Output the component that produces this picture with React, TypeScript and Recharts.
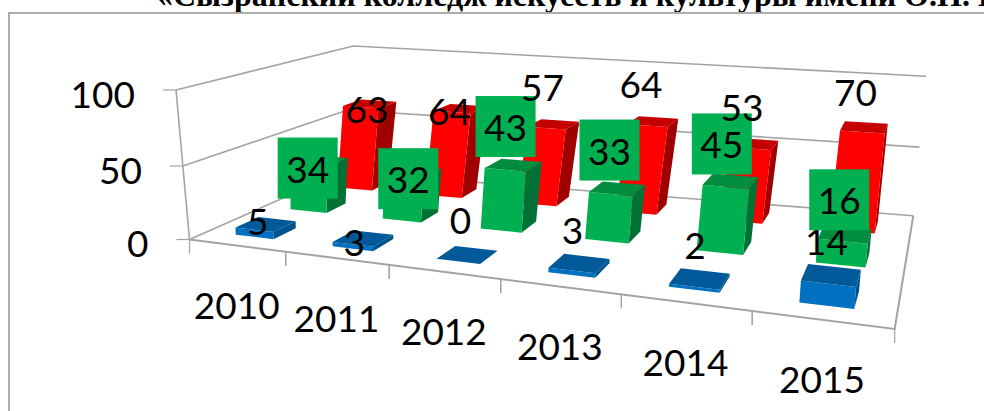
import React from "react";
import { ComposedChart, Bar, Line, XAxis, YAxis, CartesianGrid, LabelList } from "recharts";

const years = ["2010", "2011", "2012", "2013", "2014", "2015"];
const blueValues = [5, 3, 0, 3, 2, 14];
const greenValues = [34, 32, 43, 33, 45, 16];
const redValues = [63, 64, 57, 64, 53, 70];
const yTicks = [0, 50, 100];
const rows = years.map((year, i) => ({ year, blue: blueValues[i], green: greenValues[i], red: redValues[i] }));

// flat plot rectangle that the library's scales work in
const CW = 984, CH = 411, L = 100, T = 50, W = 784, H = 300;

// perspective box
type Pt = [number, number];
const FORESHORTEN = 0.79;
function quad(p0: Pt, p1: Pt, p2: Pt, p3: Pt) {
  const dx1 = p1[0] - p2[0], dx2 = p3[0] - p2[0], sx = p0[0] - p1[0] + p2[0] - p3[0];
  const dy1 = p1[1] - p2[1], dy2 = p3[1] - p2[1], sy = p0[1] - p1[1] + p2[1] - p3[1];
  const den = dx1 * dy2 - dx2 * dy1;
  const g = (sx * dy2 - dx2 * sy) / den, h = (dx1 * sy - sx * dy1) / den;
  const a = p1[0] - p0[0] + g * p1[0], b = p3[0] - p0[0] + h * p3[0];
  const d = p1[1] - p0[1] + g * p1[1], e = p3[1] - p0[1] + h * p3[1];
  const alpha = FORESHORTEN / (1 + g);
  return (u0: number, v: number): Pt => {
    const u = (alpha * u0) / (1 + (alpha - 1) * u0);
    const w = g * u + h * v + 1;
    return [(a * u + b * v + p0[0]) / w, (d * u + e * v + p0[1]) / w];
  };
}
const floorAt = quad([189.5, 239.5], [894.7, 329], [913.3, 215.7], [342, 172]);
const roofAt = quad([176, 90], [909.4, 164], [926, 76.3], [353.3, 46]);
const project = (u: number, d: number, h: number): Pt => {
  const a = floorAt(u, d), b = roofAt(u, d);
  const t = (h * 0.967) / (1 + (0.967 - 1) * h);
  return [a[0] + (b[0] - a[0]) * t, a[1] + (b[1] - a[1]) * t];
};
const toU = (x: number) => (x - L) / W;
const toH = (y: number) => (T + H - y) / H;
const pts = (list: Pt[]) => list.map((p) => `${p[0].toFixed(2)},${p[1].toFixed(2)}`).join(" ");

const FONT = "Lato, sans-serif";
const FONT_SIZE = 37;
const GRID = "#A3A3A3";

const depthOf = (slot: number) => [(slot + 0.3) / 3, (slot + 0.7) / 3];

function makeBox(slot: number, front: string, top: string, side: string) {
  const [d0, d1] = depthOf(slot);
  return (props: any) => {
    const u0 = toU(props.x), u1 = toU(props.x + props.width), h = toH(props.y);
    return (
      <g>
        <polygon points={pts([project(u1, d0, 0), project(u1, d1, 0), project(u1, d1, h), project(u1, d0, h)])} fill={side} />
        <polygon points={pts([project(u0, d0, 0), project(u1, d0, 0), project(u1, d0, h), project(u0, d0, h)])} fill={front} />
        <polygon points={pts([project(u0, d0, h), project(u1, d0, h), project(u1, d1, h), project(u0, d1, h)])} fill={top} />
      </g>
    );
  };
}

function makeLabel(slot: number, nudgeX: number[], nudgeY: number[], boxFill?: string) {
  const [d0, d1] = depthOf(slot);
  return (props: any) => {
    const { x, y, value, index } = props;
    const p = project(toU(x), (d0 + d1) / 2, toH(y));
    const cx = p[0] + nudgeX[index], cy = p[1] + nudgeY[index];
    return (
      <g>
        {boxFill ? <rect x={cx - 30} y={cy - 30.5} width={60} height={61} fill={boxFill} /> : null}
        <text x={cx} y={cy} textAnchor="middle" dominantBaseline="central" fontFamily={FONT} fontSize={FONT_SIZE} fill="#000">
          {value}
        </text>
      </g>
    );
  };
}

const gridLine = (props: any) => {
  const h = toH(props.y1);
  const common = { fill: "none", stroke: GRID, strokeWidth: 1.6 };
  return (
    <g key={`grid-${props.y1}`}>
      <polyline points={pts([project(0, 0, h), project(0, 1, h), project(1, 1, h)])} {...common} />
      {h < 0.001 ? (
        <>
          <polyline points={pts([project(0, 0, 0), project(1, 0, 0), project(1, 1, 0)])} {...common} strokeWidth={2} />
          <polyline points={pts([project(0, 0, 0), project(0, 0, 1)])} {...common} />
        </>
      ) : null}
    </g>
  );
};

const XTick = (props: any) => {
  const u = toU(props.x), half = 0.5 / years.length;
  const a = project(u - half, 0, 0), b = project(u + half, 0, 0), c = project(u, 0, 0);
  return (
    <g>
      <line x1={a[0]} y1={a[1]} x2={a[0]} y2={a[1] + 14} stroke={GRID} strokeWidth={1.2} />
      <line x1={b[0]} y1={b[1]} x2={b[0]} y2={b[1] + 14} stroke={GRID} strokeWidth={1.2} />
      <text x={c[0]} y={c[1] + 59} textAnchor="middle" dominantBaseline="central" fontFamily={FONT} fontSize={FONT_SIZE} fill="#000">
        {props.payload.value}
      </text>
    </g>
  );
};

const YTick = (props: any) => {
  const p = project(0, 0, toH(props.y));
  return (
    <g>
      <line x1={p[0] - 13} y1={p[1]} x2={p[0]} y2={p[1]} stroke={GRID} strokeWidth={1.2} />
      <text x={p[0] - 41} y={p[1] + 3} textAnchor="end" dominantBaseline="central" fontFamily={FONT} fontSize={FONT_SIZE} fill="#000">
        {props.payload.value}
      </text>
    </g>
  );
};

// hand placement of the data labels, as dragged in the original, relative to each bar's top
const blueShiftX = [-8, -9, -7, -7, -5, -5];
const blueShiftY = [-4, 3, -35, -34, -34, -35];
const greenShiftX = [-12, -5, -8, -8, -9, -6];
const greenShiftY = [7.5, 7, -38.5, -38.5, -37, -34.5];
const redShiftX = [-3, -11, -11, -12, -12, -9];
const redShiftY = [5, 2, -38, -38, -37, -36];

const hiddenAxis = { tick: false as const, axisLine: false, tickLine: false, height: 1, hide: true };

export default function App() {
  return (
    <div style={{ position: "absolute", left: 0, top: 0, width: CW, height: CH, overflow: "hidden", background: "#fff" }}>
      <div style={{ position: "absolute", left: 157, top: -20, whiteSpace: "nowrap", font: "bold 32px/30px 'Liberation Serif', serif", color: "#000" }}>
        «Сызранский колледж искусств и культуры имени О.Н. Носцовой»
      </div>
      <div style={{ position: "absolute", left: 8, top: 12, width: CW, height: CH, borderLeft: "2px solid #ADADAD", borderTop: "2px solid #ADADAD" }} />
      <div style={{ position: "absolute", left: 0, top: 0 }}>
        <ComposedChart width={CW} height={CH} data={rows} margin={{ left: L - 1, top: T, right: CW - L - W, bottom: CH - T - H - 1 }} barCategoryGap="30%">
          <CartesianGrid xAxisId="blue" vertical={false} horizontal={gridLine} />
          <XAxis xAxisId="blue" dataKey="year" interval={0} axisLine={false} tickLine={false} height={1} tick={XTick} />
          <XAxis xAxisId="green" dataKey="year" {...hiddenAxis} />
          <XAxis xAxisId="red" dataKey="year" {...hiddenAxis} />
          <YAxis domain={[0, 100]} ticks={yTicks} width={1} axisLine={false} tickLine={false} tick={YTick} />
          <Bar xAxisId="red" dataKey="red" isAnimationActive={false} shape={makeBox(2, "#FF0000", "#C40000", "#A00000")} />
          <Bar xAxisId="green" dataKey="green" isAnimationActive={false} shape={makeBox(1, "#00B050", "#008D40", "#007235")} />
          <Bar xAxisId="blue" dataKey="blue" isAnimationActive={false} shape={makeBox(0, "#0070C0", "#005A9A", "#00528C")} />
          <Line xAxisId="blue" dataKey="blue" stroke="none" dot={false} isAnimationActive={false}>
            <LabelList dataKey="blue" content={makeLabel(0, blueShiftX, blueShiftY)} />
          </Line>
          <Line xAxisId="green" dataKey="green" stroke="none" dot={false} isAnimationActive={false}>
            <LabelList dataKey="green" content={makeLabel(1, greenShiftX, greenShiftY, "#00B050")} />
          </Line>
          <Line xAxisId="red" dataKey="red" stroke="none" dot={false} isAnimationActive={false}>
            <LabelList dataKey="red" content={makeLabel(2, redShiftX, redShiftY)} />
          </Line>
        </ComposedChart>
      </div>
    </div>
  );
}
